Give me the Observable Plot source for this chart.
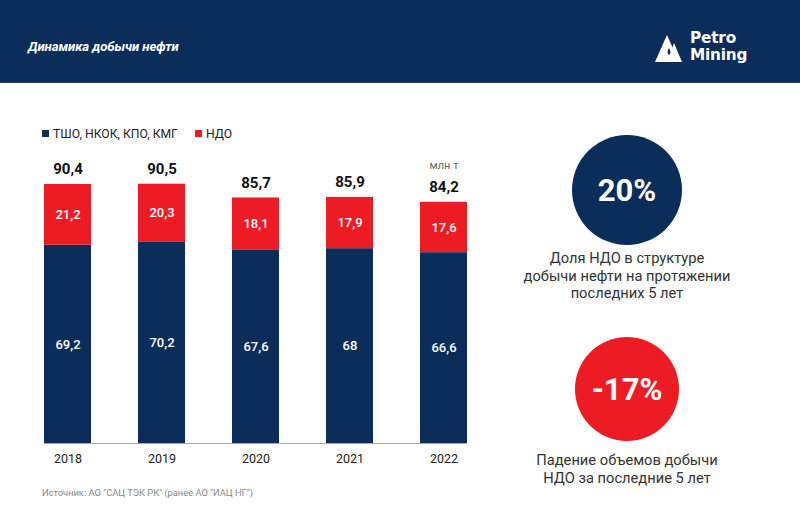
<!DOCTYPE html>
<html>
<head>
<meta charset="utf-8">
<script src="https://cdn.jsdelivr.net/npm/d3@7"></script>
<script src="https://cdn.jsdelivr.net/npm/@observablehq/plot@0.6"></script>
<style>
  html, body { margin: 0; padding: 0; background: #fff; }
  body { width: 800px; height: 516px; position: relative; overflow: hidden; font-family: Roboto, "Noto Sans", sans-serif; }
  #header { position: absolute; left: 0; top: 0; width: 800px; height: 82px; background: #0b2d5a; border-bottom: 1px solid #1f3f66; }
  #title { position: absolute; left: 28px; top: 39px; color: #fff; font-size: 13.2px; font-weight: 700; font-style: italic; letter-spacing: -0.1px; }
  #logo { position: absolute; left: 655px; top: 30px; width: 120px; height: 36px; }
  #logo .txt { position: absolute; left: 35px; color: #fff; font-family: "DejaVu Sans", sans-serif; font-weight: 700; font-size: 15.3px; line-height: 15px; letter-spacing: -0.2px; }
  #legend { position: absolute; left: 42px; top: 127px; font-size: 12.2px; color: #222; display: flex; gap: 17px; }
  #legend span.sw { display: inline-block; width: 7px; height: 7px; margin-right: 4px; vertical-align: 1px; }
  #chart { position: absolute; left: 0; top: 120px; }
  .circle { position: absolute; border-radius: 50%; color: #fff; font-weight: 700; display: flex; align-items: center; justify-content: center; }
  .desc { position: absolute; width: 280px; text-align: center; color: #333; font-size: 14.7px; line-height: 17.5px; }
  #source { position: absolute; left: 42px; top: 487px; font-size: 9.3px; color: #888; }
</style>
</head>
<body>
<div id="header">
  <div id="title">Динамика добычи нефти</div>
  <div id="logo">
    <svg width="34" height="32" viewBox="0 0 34 32" style="position:absolute;left:0;top:3px">
      <polygon points="12,2 24,29 0,29" fill="#fff"/>
      <polygon points="19,10 27,29 18,29 15,22" fill="#fff"/>
      <path d="M14,15 q-3,5 0,7 q3,-2 0,-7z" fill="#0b2d5a"/>
    </svg>
    <div class="txt" style="top:1px">Petro</div>
    <div class="txt" style="top:18px">Mining</div>
  </div>
</div>

<div id="legend"></div>
<div id="chart"></div>
<div id="stats"></div>
<div id="source">Источник: АО "САЦ ТЭК РК" (ранее АО "ИАЦ НГ")</div>

<script>
const years = ["2018", "2019", "2020", "2021", "2022"];
const majorValues = [69.2, 70.2, 67.6, 68, 66.6];
const ndoValues = [21.2, 20.3, 18.1, 17.9, 17.6];
const totals = [90.4, 90.5, 85.7, 85.9, 84.2];
const seriesNames = ["ТШО, НКОК, КПО, КМГ", "НДО"];
const seriesColors = ["#0b2d5a", "#ed1c24"];
const unitLabel = "млн т";

const statValues = ["20%", "-17%"];
const statTexts = [
  ["Доля НДО в структуре", "добычи нефти на протяжении", "последних 5 лет"],
  ["Падение объемов добычи", "НДО за последние 5 лет"]
];

const fmt = v => String(v).replace(".", ",");

const rows = [];
years.forEach((y, i) => {
  rows.push({year: y, series: seriesNames[0], value: majorValues[i]});
  rows.push({year: y, series: seriesNames[1], value: ndoValues[i]});
});
const totalRows = years.map((y, i) => ({year: y, total: totals[i]}));

// legend
const legend = document.getElementById("legend");
seriesNames.forEach((s, i) => {
  const d = document.createElement("div");
  d.innerHTML = `<span class="sw" style="background:${seriesColors[i]}"></span>${s}`;
  legend.appendChild(d);
});

const chart = Plot.plot({
  width: 490,
  height: 353,
  marginLeft: 44,
  marginRight: 23,
  marginTop: 36.5,
  marginBottom: 30,
  x: {domain: years, paddingInner: 0.5, paddingOuter: 0, axis: null},
  y: {domain: [0, 100], axis: null},
  color: {domain: seriesNames, range: seriesColors},
  style: {fontFamily: "Roboto, sans-serif", background: "transparent", overflow: "visible"},
  marks: [
    Plot.barY(rows, Plot.stackY({x: "year", y: "value", fill: "series", z: "series", order: seriesNames})),
    Plot.text(rows, Plot.stackY({
      x: "year", y: "value", z: "series", order: seriesNames,
      text: d => fmt(d.value), fill: "#fff", fontSize: 13, fontWeight: 500
    })),
    Plot.ruleY([0], {stroke: "#aaa", strokeWidth: 1}),
    Plot.text(totalRows, {x: "year", y: "total", text: d => fmt(d.total), dy: -15, fontSize: 15, fontWeight: 700, fill: "#111"}),
    Plot.text([years[years.length - 1]], {x: d => d, y: () => totals[totals.length - 1], text: () => unitLabel, dy: -37, fontSize: 11, fill: "#666", textAnchor: "middle"}),
    Plot.text(years, {x: d => d, y: () => 0, text: d => d, dy: 15, fontSize: 12.5, fill: "#222"})
  ]
});
document.getElementById("chart").appendChild(chart);

// stat circles
const stats = document.getElementById("stats");
const circleSpec = [
  {cx: 627, cy: 190, r: 55, color: seriesColors[0], textTop: 250},
  {cx: 627, cy: 389, r: 52, color: seriesColors[1], textTop: 452}
];
statValues.forEach((v, i) => {
  const c = circleSpec[i];
  const el = document.createElement("div");
  el.className = "circle";
  el.style.cssText = `left:${c.cx - c.r}px;top:${c.cy - c.r}px;width:${2*c.r}px;height:${2*c.r}px;background:${c.color};font-size:31px;`;
  el.textContent = v;
  stats.appendChild(el);
  const t = document.createElement("div");
  t.className = "desc";
  t.style.top = c.textTop + "px";
  t.style.left = (c.cx - 140) + "px";
  t.innerHTML = statTexts[i].join("<br>");
  stats.appendChild(t);
});
</script>
</body>
</html>
